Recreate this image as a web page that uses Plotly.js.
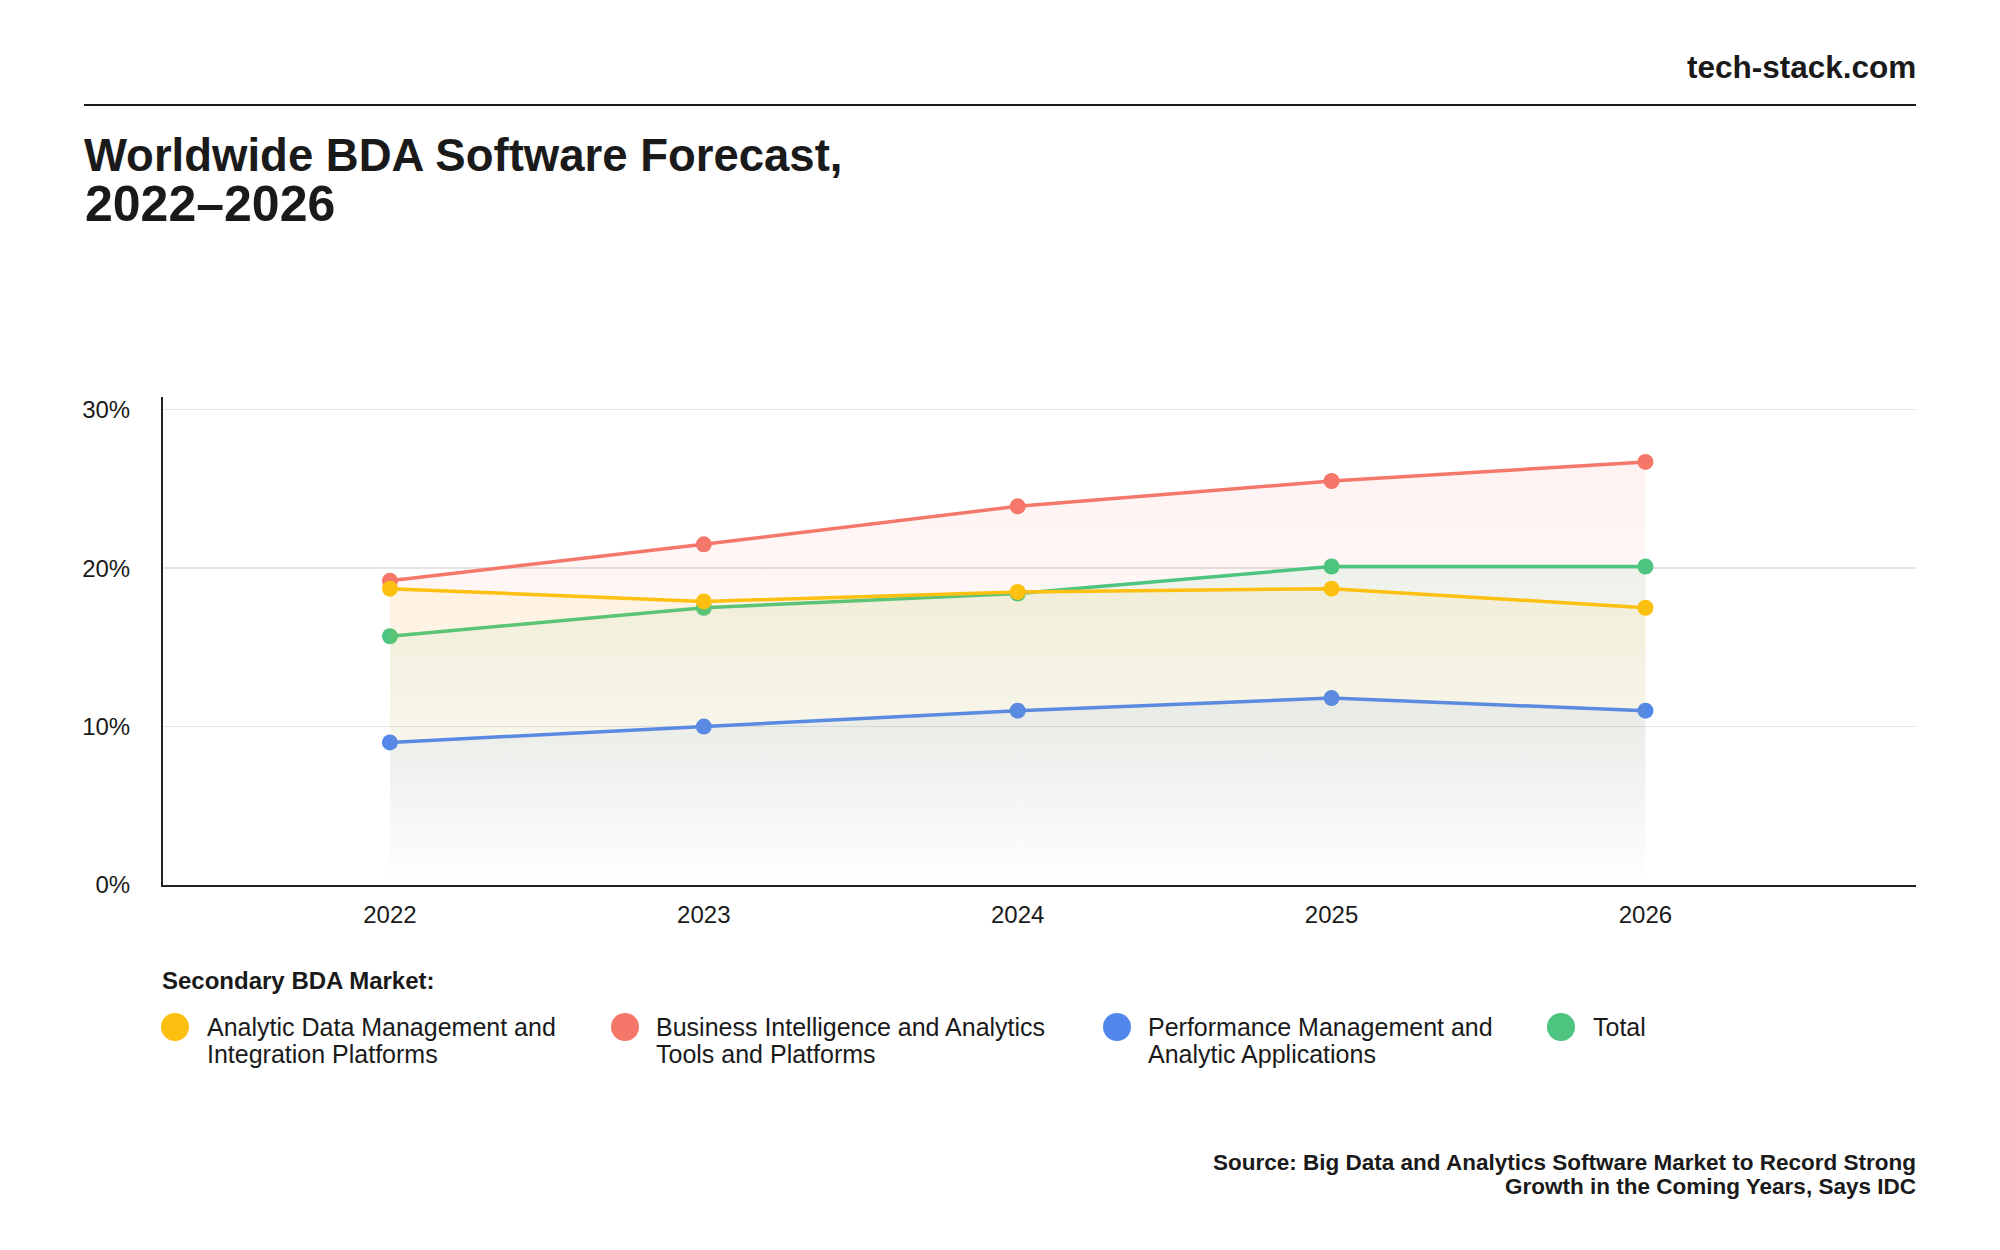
<!DOCTYPE html>
<html>
<head>
<meta charset="utf-8">
<script src="https://cdn.plot.ly/plotly-3.0.1.min.js"></script>
<style>
  html, body { margin: 0; padding: 0; background: #ffffff; }
  #chart { width: 2000px; height: 1250px; }
</style>
</head>
<body>
<div id="chart"></div>
<script>
// ---------- data ----------
const years = [2022, 2023, 2024, 2025, 2026];
const yearLabels = ['2022', '2023', '2024', '2025', '2026'];
const analyticDataMgmt = [18.7, 17.9, 18.5, 18.7, 17.5];
const businessIntel = [19.2, 21.5, 23.9, 25.5, 26.7];
const perfMgmt = [9.0, 10.0, 11.0, 11.8, 11.0];
const totalMarket = [15.7, 17.5, 18.4, 20.1, 20.1];
const yTickVals = [0, 10, 20, 30];
const yTickText = ['0%', '10%', '20%', '30%'];
const seriesNames = [
  ['Analytic Data Management and', 'Integration Platforms'],
  ['Business Intelligence and Analytics', 'Tools and Platforms'],
  ['Performance Management and', 'Analytic Applications'],
  ['Total']
];
const seriesColors = ['#FDC010', '#F5776A', '#5287EC', '#4DC47F'];
const seriesRGB = ['253,192,16', '245,119,106', '82,135,236', '77,196,127'];
const seriesValues = [analyticDataMgmt, businessIntel, perfMgmt, totalMarket];

// ---------- geometry helpers (layout only) ----------
const W = 2000, H = 1250;
const L = 163, R = 1916, T = 397, B = 885;
const px = x => (x - L) / (R - L);
const py = y => (B - y) / (B - T);

const FONT = 'Liberation Sans, Arial, Helvetica, sans-serif';
const INK = '#1a1a1a';

// draw order: BI, Total, PM, ADM (yellow on top)
const drawOrder = [1, 3, 2, 0];
const traces = drawOrder.map(i => ({
  type: 'scatter',
  mode: 'lines+markers',
  x: years,
  y: seriesValues[i],
  name: seriesNames[i].join(' '),
  showlegend: false,
  line: { color: seriesColors[i], width: 3.5 },
  marker: { color: seriesColors[i], size: 16 },
  fill: 'tozeroy',
  fillgradient: {
    type: 'vertical',
    colorscale: [[0, 'rgba(' + seriesRGB[i] + ',0)'], [0.35, 'rgba(' + seriesRGB[i] + ',0.03)'], [1, 'rgba(' + seriesRGB[i] + ',0.09)']]
  },
  hoverinfo: 'x+y+name'
}));

// ---------- custom legend ----------
const legendMarkerX = [175, 625, 1117, 1561];
const legendTextX = [205, 654, 1146, 1591];
const legendLineY = [1027, 1054];
const shapes = [
  { type: 'line', xref: 'paper', yref: 'paper', x0: px(84), x1: px(1916), y0: py(105), y1: py(105),
    line: { color: INK, width: 2 } }
];
const annotations = [];
seriesNames.forEach((lines, i) => {
  const r = 14;
  shapes.push({
    type: 'circle', xref: 'paper', yref: 'paper',
    x0: px(legendMarkerX[i] - r), x1: px(legendMarkerX[i] + r),
    y0: py(legendLineY[0] + r), y1: py(legendLineY[0] - r),
    fillcolor: seriesColors[i], line: { width: 0 }
  });
  lines.forEach((ln, k) => {
    annotations.push({
      xref: 'paper', yref: 'paper', x: px(legendTextX[i]), y: py(legendLineY[k]),
      xanchor: 'left', yanchor: 'middle', align: 'left', showarrow: false,
      text: ln, font: { family: FONT, size: 25, color: INK }
    });
  });
});

const sourceLines = ['Source: Big Data and Analytics Software Market to Record Strong', 'Growth in the Coming Years, Says IDC'];
const sourceY = [1162, 1186];
sourceLines.forEach((ln, k) => {
  annotations.push({ xref: 'paper', yref: 'paper', x: px(1918), y: py(sourceY[k]), xanchor: 'right', yanchor: 'middle',
    align: 'right', showarrow: false, text: '<b>' + ln + '</b>', font: { family: FONT, size: 22.5, color: INK } });
});

annotations.push(
  { xref: 'paper', yref: 'paper', x: px(160), y: py(980), xanchor: 'left', yanchor: 'middle', showarrow: false,
    text: '<b>Secondary BDA Market:</b>', font: { family: FONT, size: 24, color: INK } },
  { xref: 'paper', yref: 'paper', x: px(1918), y: py(67), xanchor: 'right', yanchor: 'middle', showarrow: false,
    text: '<b>tech-stack.com</b>', font: { family: FONT, size: 31.5, color: INK } },
  { xref: 'paper', yref: 'paper', x: px(83), y: py(204), xanchor: 'left', yanchor: 'middle', showarrow: false,
    text: '<b>2022–2026</b>', font: { family: FONT, size: 50, color: INK } }
);

const layout = {
  width: W, height: H,
  paper_bgcolor: '#ffffff', plot_bgcolor: '#ffffff',
  margin: { l: L, r: W - R, t: T, b: H - B, pad: 0 },
  font: { family: FONT, color: INK },
  title: {
    text: '<b>Worldwide BDA Software Forecast,</b>',
    x: 84 / W, xanchor: 'left', xref: 'container',
    y: 1 - 155 / H, yanchor: 'middle', yref: 'container',
    font: { family: FONT, size: 45.5, color: INK }
  },
  xaxis: {
    type: 'linear',
    range: [2021.277, 2026.862],
    tickvals: years, ticktext: yearLabels,
    showgrid: false, zeroline: false,
    showline: true, linecolor: '#222222', linewidth: 2,
    ticks: '', ticklabelstandoff: 7,
    tickfont: { family: FONT, size: 24, color: INK },
    fixedrange: true
  },
  yaxis: {
    range: [0, 30.8],
    tickvals: yTickVals, ticktext: yTickText,
    showgrid: true, gridcolor: '#e4e4e4', gridwidth: 1.5,
    zeroline: false,
    showline: true, linecolor: '#222222', linewidth: 2,
    ticks: '', ticklabelstandoff: 26,
    tickfont: { family: FONT, size: 24, color: INK },
    fixedrange: true
  },
  shapes: shapes,
  annotations: annotations,
  showlegend: false
};

Plotly.newPlot('chart', traces, layout, { displayModeBar: false, staticPlot: true });
</script>
</body>
</html>
